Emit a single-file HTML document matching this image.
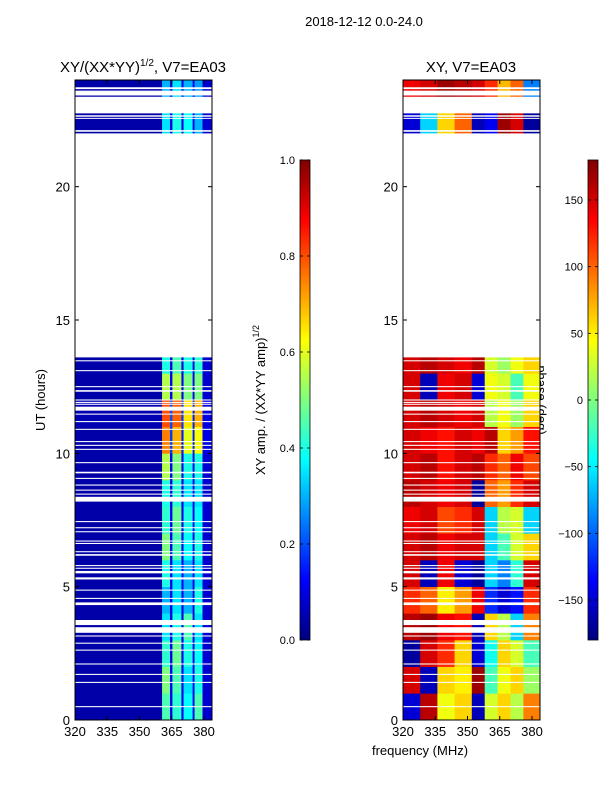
<!DOCTYPE html>
<html><head><meta charset="utf-8"><style>
html,body{margin:0;padding:0;background:#fff;}
svg{display:block;font-family:"Liberation Sans",sans-serif;}
</style></head><body>
<svg id="fig" width="600" height="800" viewBox="0 0 600 800">
<defs>
<linearGradient id="jet" x1="0" y1="1" x2="0" y2="0">
<stop offset="0" stop-color="#00007f"/><stop offset="0.125" stop-color="#0000ff"/>
<stop offset="0.375" stop-color="#00ffff"/><stop offset="0.625" stop-color="#ffff00"/>
<stop offset="0.875" stop-color="#ff0000"/><stop offset="1" stop-color="#7f0000"/>
</linearGradient>
</defs>
<text x="364" y="26" font-size="13" text-anchor="middle">2018-12-12 0.0-24.0</text>
<text x="143" y="72" font-size="15" text-anchor="middle">XY/(XX*YY)<tspan font-size="10" dy="-6">1/2</tspan><tspan dy="6">, V7=EA03</tspan></text>
<text x="471" y="72" font-size="15" text-anchor="middle">XY, V7=EA03</text>
<text x="0" y="0" font-size="13" text-anchor="middle" transform="translate(45,400) rotate(-90)">UT (hours)</text>
<text x="420" y="755" font-size="13" text-anchor="middle">frequency (MHz)</text>
<text x="0" y="0" font-size="13" text-anchor="middle" transform="translate(265,400) rotate(-90)">XY amp. / (XX*YY amp)<tspan font-size="9" dy="-6">1/2</tspan></text>
<text x="0" y="0" font-size="13" text-anchor="middle" transform="translate(537,400) rotate(90)">phase (deg)</text>
<g id="left"></g>
<g id="right"></g>
<g id="cbars"></g>
</svg>
<script>
// ---- data ----
const dataBands = [[0,13.6],[22.0,22.06],[22.12,22.54],[22.58,22.62],[22.68,22.75],[23.37,23.42],[23.6,23.66],[23.73,24]];
const gaps = [[0.48,0.52],[1.39,1.43],[1.69,1.73],[2.08,2.12],[2.60,2.64],[2.86,2.90],[3.13,3.17],[3.27,3.48],[3.56,3.75],[4.31,4.41],[4.54,4.58],[4.85,4.89],[5.27,5.35],[5.50,5.59],[5.67,5.71],[5.77,5.81],[6.16,6.22],[6.29,6.33],[6.60,6.64],[6.69,6.73],[7.04,7.08],[7.19,7.23],[7.42,7.46],[8.19,8.37],[8.45,8.49],[8.60,8.64],[8.79,8.83],[9.04,9.08],[9.25,9.31],[9.63,9.67],[10.13,10.17],[10.28,10.32],[10.42,10.46],[10.88,10.92],[11.17,11.21],[11.45,11.49],[11.60,11.75],[11.82,11.86],[11.89,11.93],[11.98,12.02],[12.31,12.37],[12.48,12.52],[13.08,13.12],[13.45,13.49]];
const ampHours = [0,1,2,3,4,5,6,7,8,9,10,11,12,13,22,23];
const ampFreqEdges = [320,360.5,364.2,365.3,369.5,370.5,374.7,375.6,379.3,383.7];
const ampValues = [
 [0.04,0.45,0.10,0.42,0.12,0.38,0.12,0.45,0.08],
 [0.04,0.50,0.12,0.45,0.12,0.35,0.12,0.40,0.08],
 [0.04,0.42,0.10,0.48,0.12,0.40,0.10,0.38,0.08],
 [0.04,0.35,0.10,0.40,0.10,0.45,0.10,0.35,0.08],
 [0.04,0.30,0.10,0.35,0.10,0.30,0.10,0.40,0.08],
 [0.04,0.40,0.10,0.35,0.12,0.30,0.10,0.35,0.08],
 [0.04,0.50,0.12,0.45,0.12,0.38,0.10,0.40,0.08],
 [0.04,0.42,0.12,0.48,0.12,0.40,0.12,0.38,0.08],
 [0.04,0.40,0.10,0.42,0.10,0.35,0.10,0.35,0.08],
 [0.04,0.55,0.12,0.50,0.12,0.40,0.10,0.40,0.08],
 [0.04,0.75,0.18,0.70,0.15,0.60,0.15,0.62,0.10],
 [0.05,0.80,0.20,0.78,0.18,0.65,0.15,0.70,0.10],
 [0.04,0.55,0.12,0.55,0.12,0.50,0.12,0.50,0.08],
 [0.04,0.40,0.10,0.45,0.10,0.40,0.10,0.42,0.08],
 [0.04,0.35,0.10,0.40,0.10,0.38,0.10,0.30,0.08],
 [0.04,0.30,0.10,0.35,0.10,0.30,0.10,0.28,0.08]
];
const phaseHours = [0,1,2,3,4,5,6,7,8,9,10,11,12,13,22,23];
const phaseFreqEdges = [320,328,336,344,352,358,364,370,376,383.7];
const phaseValues = [
 [-150,160,40,60,-160,30,60,20,90],
 [150,-160,60,50,170,-20,40,60,10],
 [-170,150,120,60,-150,-40,60,30,-20],
 [160,170,140,130,-160,60,20,-60,90],
 [120,100,50,80,140,-120,-150,-130,120],
 [150,-160,140,-150,-170,-60,-90,-30,150],
 [150,160,140,150,150,-60,-20,30,60],
 [140,150,110,120,150,-60,20,30,-60],
 [160,150,140,150,-170,100,80,120,150],
 [150,160,130,150,160,120,100,140,110],
 [150,140,130,150,140,160,60,80,130],
 [150,160,150,140,150,20,40,10,60],
 [150,-160,140,150,-150,40,30,-20,40],
 [150,160,150,140,160,30,10,40,60],
 [-150,-60,60,100,-160,-140,170,150,-170],
 [140,150,170,160,150,120,70,100,-90]
];
const ampTicks = [0.0,0.2,0.4,0.6,0.8,1.0];
const phaseTicks = [-150,-100,-50,0,50,100,150];
const yTicks = [0,5,10,15,20];
const xTicks = [320,335,350,365,380];

// ---- helpers ----
const NS='http://www.w3.org/2000/svg';
function el(tag,attrs,parent){const e=document.createElementNS(NS,tag);for(const k in attrs)e.setAttribute(k,attrs[k]);parent.appendChild(e);return e;}
function jet(v){v=Math.max(0,Math.min(1,v));
 const r=Math.max(0,Math.min(1,Math.min(4*v-1.5,-4*v+4.5)));
 const g=Math.max(0,Math.min(1,Math.min(4*v-0.5,-4*v+3.5)));
 const b=Math.max(0,Math.min(1,Math.min(4*v+0.5,-4*v+2.5)));
 return 'rgb('+Math.round(r*255)+','+Math.round(g*255)+','+Math.round(b*255)+')';}
const Y0=720,Y1=80;
function yScale(h){return Y0-(h/24)*(Y0-Y1);}
function makeX(left){return f=>left+(f-320)*2.15;}
function rowSpan(hours,i){const s=hours[i];const next=(i+1<hours.length&&hours[i+1]===s+1)?hours[i+1]:s+1;return [s,next];}

function drawPanel(g,left,hours,edges,values,toUnit,name){
 const xs=makeX(left), right=left+137;
 const clipId=name+'-clip';
 const cp=el('clipPath',{id:clipId},g);
 dataBands.forEach(b=>el('rect',{x:left,y:yScale(b[1]),width:137,height:yScale(b[0])-yScale(b[1])},cp));
 const cells=el('g',{'clip-path':'url(#'+clipId+')'},g);
 for(let i=0;i<hours.length;i++){
  const sp=rowSpan(hours,i);
  for(let j=0;j<edges.length-1;j++){
   const x0=xs(edges[j]),x1=Math.min(right,xs(edges[j+1]));
   const c=el('rect',{x:x0,y:yScale(sp[1]),width:x1-x0+0.3,height:yScale(sp[0])-yScale(sp[1])+0.3,fill:jet(toUnit(values[i][j]))},cells);
   
   
  }
 }
 gaps.forEach(gp=>{
  const r=el('rect',{x:left,y:yScale(gp[1]),width:137,height:yScale(gp[0])-yScale(gp[1]),fill:'#fff'},g);
  
  
 });
 const frame=el('rect',{x:left,y:Y1,width:137,height:Y0-Y1,fill:'none',stroke:'#000','stroke-width':1},g);
 
 
 yTicks.forEach(t=>{
  const y=yScale(t);
  el('line',{x1:left,x2:left+4,y1:y,y2:y,stroke:'#000'},g);
  el('line',{x1:right-4,x2:right,y1:y,y2:y,stroke:'#000'},g);
  const tx=el('text',{x:left-5,y:y+5,'font-size':13,'text-anchor':'end'},g);
  tx.textContent=t;
  
  
 });
 xTicks.forEach(t=>{
  const x=xs(t);
  el('line',{x1:x,x2:x,y1:Y0,y2:Y0-4,stroke:'#000'},g);
  el('line',{x1:x,x2:x,y1:Y1,y2:Y1+4,stroke:'#000'},g);
  const tx=el('text',{x:x,y:Y0+16,'font-size':13,'text-anchor':'middle'},g);
  tx.textContent=t;
  
  
 });
}
drawPanel(document.getElementById('left'),75,ampHours,ampFreqEdges,ampValues,v=>v,'amp');
drawPanel(document.getElementById('right'),403,phaseHours,phaseFreqEdges,phaseValues,p=>(p+180)/360,'phase');

// colorbars
const cb=document.getElementById('cbars');
function colorbar(x,ticks,toUnit,labelRight,fmt,name){
 const bar=el('rect',{x:x,y:160,width:10,height:480,fill:'url(#jet)',stroke:'#000','stroke-width':0.8},cb);
 
 
 ticks.forEach(t=>{
  const y=640-toUnit(t)*480;
  el('line',{x1:x,x2:x+3,y1:y,y2:y,stroke:'#000','stroke-width':0.8},cb);
  el('line',{x1:x+7,x2:x+10,y1:y,y2:y,stroke:'#000','stroke-width':0.8},cb);
  const tx=el('text',{x:labelRight,y:y+4,'font-size':11,'text-anchor':'end'},cb);
  tx.textContent=fmt(t);
  
  
 });
}
colorbar(300,ampTicks,v=>v,295,t=>t.toFixed(1),'amp-colorbar');
colorbar(588,phaseTicks,p=>(p+180)/360,583,t=>String(t).replace('-','\u2212'),'phase-colorbar');
</script>
</body></html>
